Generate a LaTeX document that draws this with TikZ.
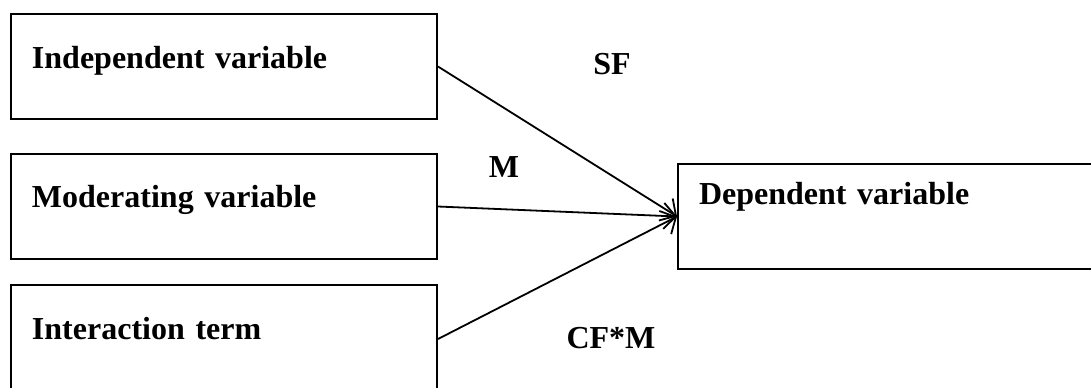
\documentclass[tikz,border=0pt]{standalone}
\usepackage{fontspec}
\setmainfont{Liberation Serif}
\usetikzlibrary{arrows.meta}

\begin{document}
\begin{tikzpicture}[x=0.5pt,y=-0.5pt,
    varbox/.style={draw,line width=1pt,anchor=north west,align=left,
      inner ysep=0pt,inner xsep=10.5pt,font=\fontsize{16}{19}\selectfont\bfseries},
    coef/.style={anchor=base,font=\fontsize{16}{19}\selectfont\bfseries},
    link/.style={line width=0.9pt,-{Straight Barb[length=6pt,width=13pt,line width=0.9pt]}}]
    \useasboundingbox (0,0) rectangle (1091,387);
    \node[varbox,text width=192pt,text height=27pt,text depth=25.5pt] (indep) at (10,13) {Independent variable};
    \node[varbox,text width=192pt,text height=26.5pt,text depth=26pt] (moder) at (10,153) {Moderating variable};
    \node[varbox,text width=192pt,text height=27pt,text depth=27pt] (inter) at (10,284) {Interaction term};
    \node[varbox,text width=195pt,text height=20pt,text depth=32.5pt] (dep) at (677,163) {Dependent variable};
    \draw[link] (indep.east) -- (dep.west);
    \draw[link] (moder.east) -- (dep.west);
    \draw[link] (inter.east) -- (dep.west);
    \node[coef] (sf) at (612,74) {SF};
    \node[coef] (m) at (504,177) {M};
    \node[coef] (cfm) at (611,348) {CF*M};
\end{tikzpicture}
\end{document}
